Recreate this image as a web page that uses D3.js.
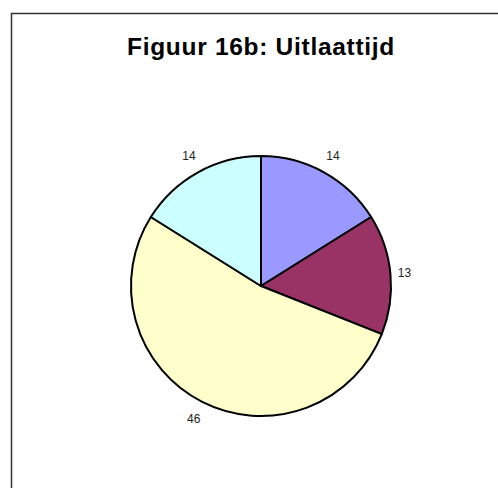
<!DOCTYPE html>
<html>
<head>
<meta charset="utf-8">
<script src="https://cdn.jsdelivr.net/npm/d3@7"></script>
<style>
  body { margin: 0; background: #fff; }
  text { font-family: "Liberation Sans", Arial, sans-serif; }
</style>
</head>
<body>
<svg id="chart" width="498" height="488"></svg>
<script>
// Chart data
var categories = ["A", "B", "C", "D"];
var values = [14, 13, 46, 14];
var colors = ["#9999FF", "#993366", "#FFFFCC", "#CCFFFF"];
var title = "Figuur 16b: Uitlaattijd";

var svg = d3.select("#chart");
var svgWidth = +svg.attr("width");
var svgHeight = +svg.attr("height");

// Chart area border (runs off the right and bottom edge)
svg.append("rect")
    .attr("x", 11.5)
    .attr("y", 13.5)
    .attr("width", svgWidth)
    .attr("height", svgHeight)
    .attr("fill", "#fff")
    .attr("stroke", "#333")
    .attr("stroke-width", 1.5);

// Title
svg.append("text")
    .attr("x", 261)
    .attr("y", 55)
    .attr("text-anchor", "middle")
    .attr("font-size", 24.5)
    .attr("font-weight", "bold")
    .attr("letter-spacing", 0.7)
    .attr("fill", "#000")
    .text(title);

// Pie
var cx = 261, cy = 286, radius = 130;
var pieG = svg.append("g").attr("transform", "translate(" + [cx, cy] + ")");

var pie = d3.pie().sort(null).value(function(d) { return d; });
var arc = d3.arc().innerRadius(0).outerRadius(radius);
var arcs = pie(values);

pieG.selectAll(".slice")
    .data(arcs)
    .enter()
    .append("path")
    .attr("class", "slice")
    .attr("d", arc)
    .attr("fill", function(d, i) { return colors[i]; })
    .attr("stroke", "#000")
    .attr("stroke-width", 2)
    .attr("stroke-linejoin", "round");

// Labels outside the slices
pieG.selectAll(".label")
    .data(arcs)
    .enter()
    .append("text")
    .attr("class", "label")
    .attr("transform", function(d) {
        var a = (d.startAngle + d.endAngle) / 2;
        var lr = radius + 13.5 + 6 * Math.abs(Math.cos(a));
        return "translate(" + [lr * Math.sin(a), -lr * Math.cos(a)] + ")";
    })
    .attr("dy", "0.35em")
    .attr("text-anchor", "middle")
    .attr("font-size", 12)
    .attr("fill", "#222")
    .text(function(d) { return d.data; });
</script>
</body>
</html>
